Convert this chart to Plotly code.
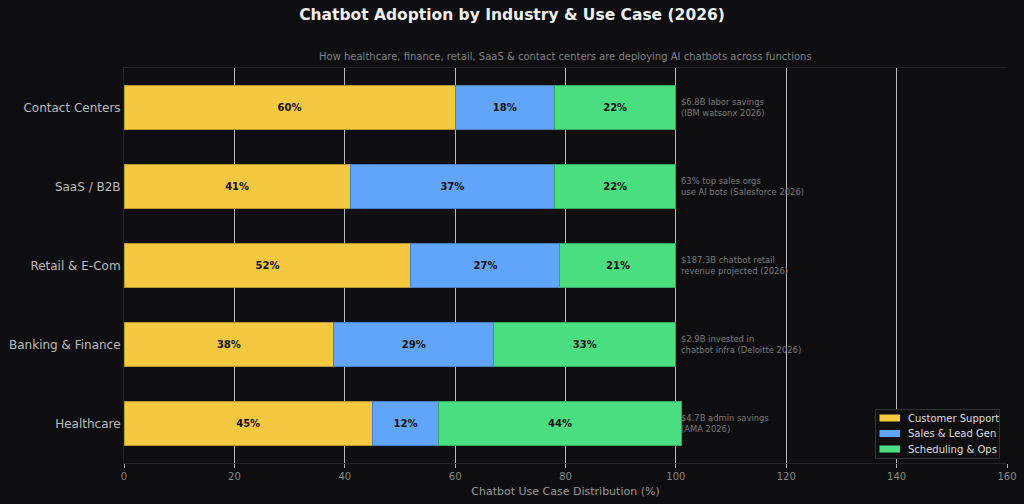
import plotly.graph_objects as go

industries = ["Healthcare", "Banking & Finance", "Retail & E-Com", "SaaS / B2B", "Contact Centers"]
customer_support = [45, 38, 52, 41, 60]
sales_lead_gen = [12, 29, 27, 37, 18]
scheduling_ops = [44, 33, 21, 22, 22]
notes = [
    "$4.7B admin savings<br>(AMA 2026)",
    "$2.9B invested in<br>chatbot infra (Deloitte 2026)",
    "$187.3B chatbot retail<br>revenue projected (2026)",
    "63% top sales orgs<br>use AI bots (Salesforce 2026)",
    "$6.8B labor savings<br>(IBM watsonx 2026)",
]
series_names = ["Customer Support", "Sales & Lead Gen", "Scheduling & Ops"]
series_values = [customer_support, sales_lead_gen, scheduling_ops]
series_colors = ["#f5c842", "#60a5fa", "#4ade80"]
series_edges = ["#b8962f", "#4a80c0", "#35a862"]

BG = "#0e0e10"
ML, MR, MT, MB = 124, 17, 68, 41
W, H = 1024, 504
PW, PH = W - ML - MR, H - MT - MB


def px_x(x):
    return (x - ML) / PW


def px_y(y):
    return (H - MB - y) / PH


fig = go.Figure()
for name, vals, col, edge in zip(series_names, series_values, series_colors, series_edges):
    fig.add_trace(go.Bar(
        y=industries, x=vals, name=name, orientation="h",
        marker=dict(color=col, line=dict(color=edge, width=1)),
        width=0.55, showlegend=False,
        text=[f"{v}%" for v in vals], textposition="inside",
        insidetextanchor="middle",
        textfont=dict(family="DejaVu Sans", size=10, color="#111111", weight="bold"),
    ))

for ind, note in zip(industries, notes):
    fig.add_annotation(
        x=100, y=ind, text=note, showarrow=False, xanchor="left", yanchor="middle",
        xshift=3, yshift=0, align="left",
        font=dict(family="DejaVu Sans", size=8.4, color="#7a7a7a"),
    )

fig.add_annotation(
    x=0.5, y=1.0, xref="paper", yref="paper", yshift=4, yanchor="bottom",
    text="How healthcare, finance, retail, SaaS & contact centers are deploying AI chatbots across functions",
    showarrow=False, font=dict(family="DejaVu Sans", size=10, color="#808080"),
)

# custom legend
fig.add_shape(type="rect", xref="paper", yref="paper",
              x0=px_x(875.5), x1=px_x(999.5), y0=px_y(458.5), y1=px_y(409.5),
              fillcolor="#0f0f12", line=dict(color="#333333", width=1), layer="above")
for i, (name, col) in enumerate(zip(series_names, series_colors)):
    cy = 418 + i * 15.5
    fig.add_shape(type="rect", xref="paper", yref="paper",
                  x0=px_x(879.5), x1=px_x(900), y0=px_y(cy + 3.5), y1=px_y(cy - 3.5),
                  fillcolor=col, line=dict(width=0), layer="above")
    fig.add_annotation(x=px_x(906), y=px_y(cy), xref="paper", yref="paper",
                       text=name, showarrow=False, xanchor="left", yanchor="middle",
                       font=dict(family="DejaVu Sans", size=10, color="#dddddd"))

fig.update_layout(
    barmode="stack",
    width=W, height=H,
    paper_bgcolor=BG, plot_bgcolor=BG,
    margin=dict(l=ML, r=MR, t=MT, b=MB, autoexpand=False),
    title=dict(text="<b>Chatbot Adoption by Industry & Use Case (2026)</b>", x=0.5, xanchor="center",
               y=0.972, yanchor="middle",
               font=dict(family="DejaVu Sans", size=15.5, color="#eeeeee")),
    font=dict(family="DejaVu Sans", color="#aaaaaa"),
    showlegend=False,
    uniformtext=dict(mode="show", minsize=8),
)
fig.update_xaxes(
    range=[0, 160], dtick=20, showgrid=True, gridcolor="#b8b8b8", gridwidth=1,
    zeroline=False, showline=True, linecolor="#222222", mirror=True,
    ticks="outside", ticklen=4, tickcolor="#b0b0b0",
    tickfont=dict(size=10, color="#888888"), automargin=False,
    title=dict(text="Chatbot Use Case Distribution (%)", font=dict(size=11, color="#999999"), standoff=6),
)
fig.update_yaxes(
    showgrid=False, showline=True, linecolor="#222222", automargin=False,
    tickfont=dict(size=12, color="#bbbbbb"), ticks="", range=[-0.5, 4.5],
)
fig.write_html("out.html")
